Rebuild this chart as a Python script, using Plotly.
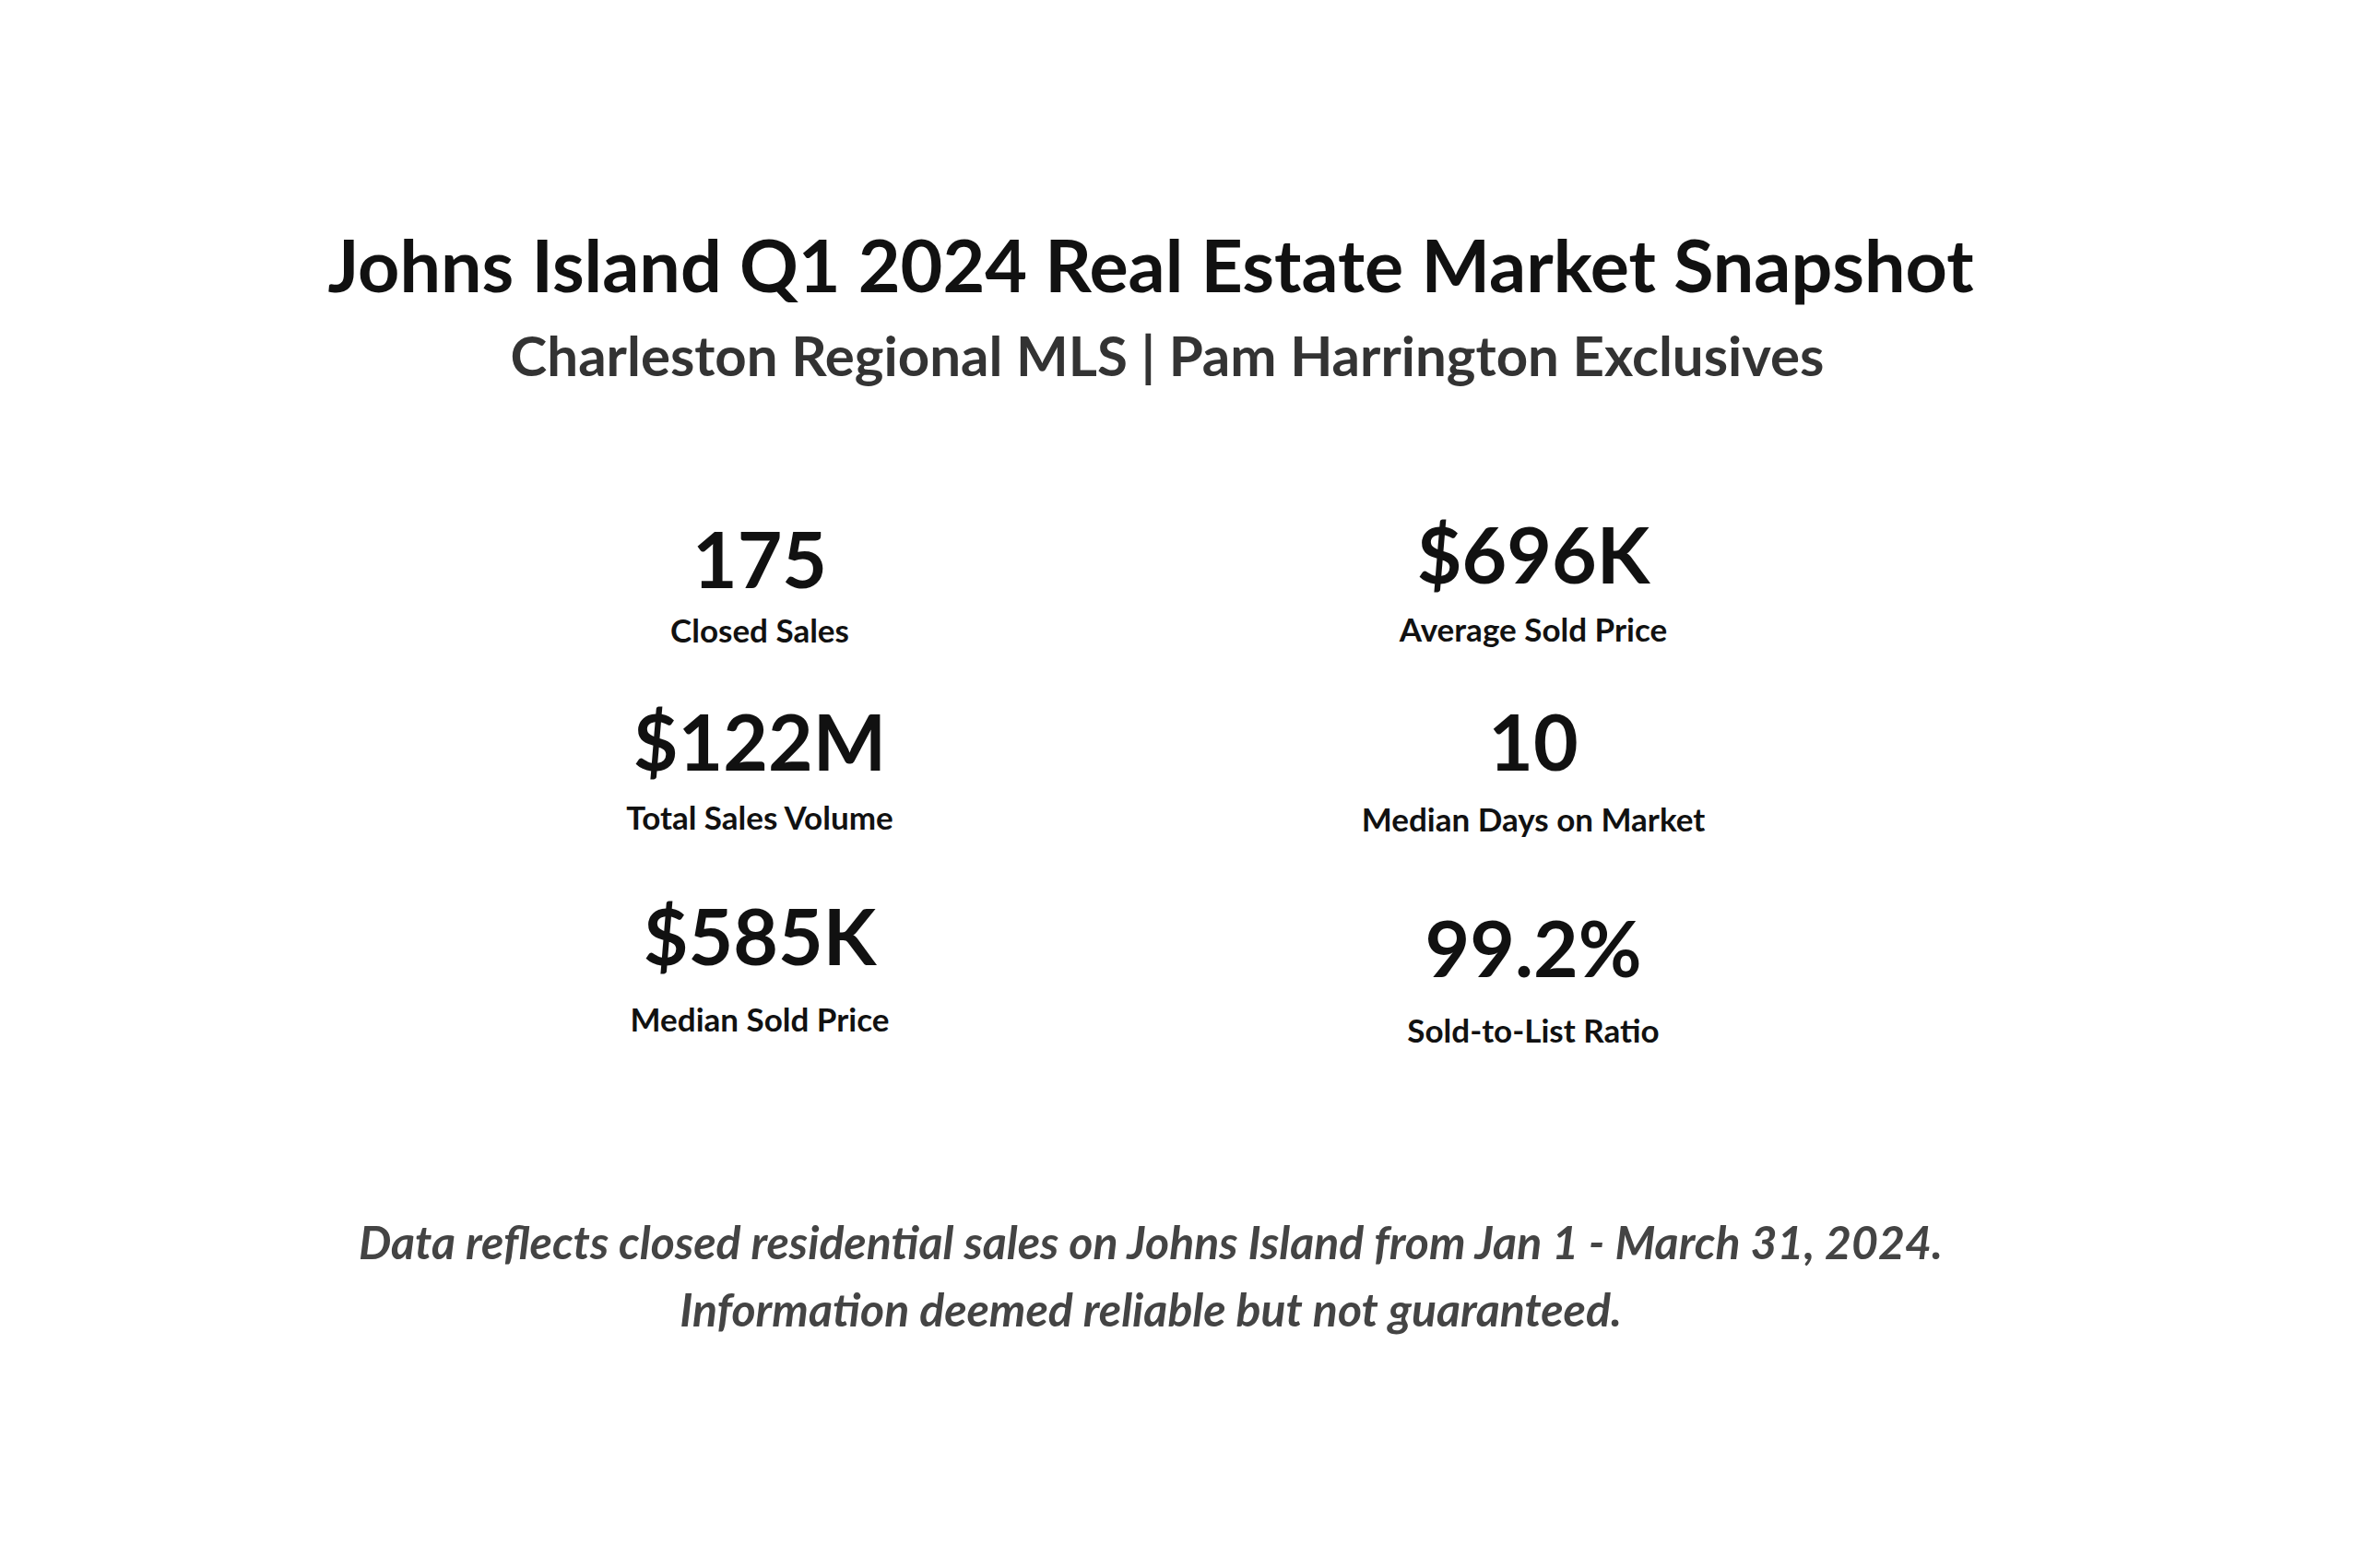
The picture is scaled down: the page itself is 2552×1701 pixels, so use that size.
import plotly.graph_objects as go

title = "Johns Island Q1 2024 Real Estate Market Snapshot"
subtitle = "Charleston Regional MLS | Pam Harrington Exclusives"
kpi_values = ["175", "$122M", "$585K", "$696K", "10", "99.2%"]
kpi_labels = ["Closed Sales", "Total Sales Volume", "Median Sold Price",
              "Average Sold Price", "Median Days on Market", "Sold-to-List Ratio"]
footnote = ["Data reflects closed residential sales on Johns Island from Jan 1 - March 31, 2024.",
            "Information deemed reliable but not guaranteed."]

W, H = 2552, 1701
FONT = "Lato"

# layout grid (pixels)
col_x = [816, 1655]
val_y = [[609, 807, 1018], [604, 807, 1031]]
lab_y = [[680, 883, 1102], [679, 885, 1114]]
cx = W / 2 - 36

vx, vy = [], []
lx, ly = [], []
for i in range(len(kpi_values)):
    c, r = divmod(i, 3)
    vx.append(col_x[c]); vy.append(val_y[c][r])
    lx.append(col_x[c]); ly.append(lab_y[c][r])

fig = go.Figure()
fig.add_trace(go.Scatter(x=vx, y=vy, text=kpi_values, mode="text",
                         textfont=dict(family=FONT, size=84, color="#111111", weight="bold")))
fig.add_trace(go.Scatter(x=lx, y=ly, text=kpi_labels, mode="text",
                         textfont=dict(family=FONT, size=35, color="#111111", weight="bold")))
fig.add_trace(go.Scatter(x=[cx, cx + 18], y=[289, 385], text=[title, subtitle], mode="text",
                         textfont=dict(family=FONT, size=[79, 60], color=["#111111", "#333333"],
                                       weight="bold")))
fig.add_trace(go.Scatter(x=[cx, cx], y=[1345, 1418], text=footnote, mode="text",
                         textfont=dict(family=FONT, size=50, color="#444444",
                                       style="italic", weight="bold")))

fig.update_layout(
    width=W, height=H, showlegend=False,
    margin=dict(l=0, r=0, t=0, b=0),
    paper_bgcolor="white", plot_bgcolor="white",
    xaxis=dict(range=[0, W], visible=False, fixedrange=True),
    yaxis=dict(range=[H, 0], visible=False, fixedrange=True),
)
fig.write_html("out.html")
